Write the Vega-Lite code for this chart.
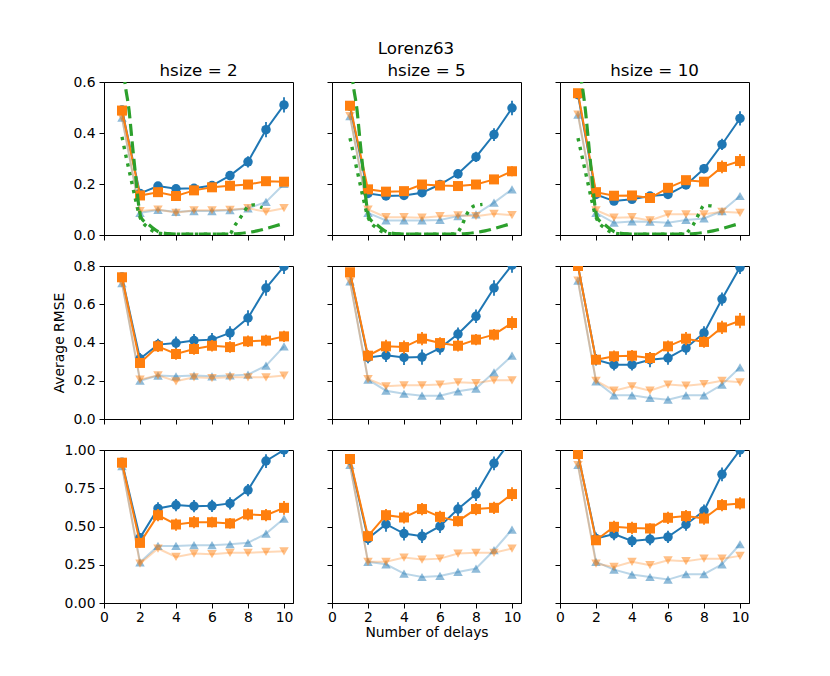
{
"$schema": "https://vega.github.io/schema/vega-lite/v6.json",
"padding": {"left": 52, "top": 41, "right": 5, "bottom": 5},
"title": {"text": "Lorenz63", "offset": 5, "dx": 15},
"config": {
 "view": {"stroke": "#000", "strokeWidth": 1},
 "mark": {"invalid": "filter"},
 "title": {"font": "DejaVu Sans", "fontSize": 16.7, "fontWeight": "normal", "color": "#000", "anchor": "middle", "offset": -5},
 "axis": {"grid": false, "domainColor": "#000", "domainWidth": 1, "tickColor": "#000", "tickWidth": 1, "tickSize": 5, "tickCount": 12, "labelColor": "#000", "labelFont": "DejaVu Sans", "labelFontSize": 13.9, "labelPadding": 4, "labelFlush": false, "labelOverlap": false, "labelBound": false, "titleFont": "DejaVu Sans", "titleFontSize": 13.9, "titleFontWeight": "normal", "titleColor": "#000", "titlePadding": 6},
 "axisX": {"labelPadding": 2}
},
"datasets": {"main": [
{"r":1,"h":2,"x":1,"a":0.49,"ea":0.015,"b":0.488,"eb":0.015,"c":0.46,"d":0.46},
{"r":1,"h":2,"x":2,"a":0.163,"ea":0.012,"b":0.155,"eb":0.012,"c":0.087,"d":0.094},
{"r":1,"h":2,"x":3,"a":0.192,"ea":0.015,"b":0.168,"eb":0.012,"c":0.098,"d":0.1},
{"r":1,"h":2,"x":4,"a":0.181,"ea":0.012,"b":0.153,"eb":0.012,"c":0.091,"d":0.087},
{"r":1,"h":2,"x":5,"a":0.183,"ea":0.012,"b":0.175,"eb":0.012,"c":0.094,"d":0.097},
{"r":1,"h":2,"x":6,"a":0.194,"ea":0.012,"b":0.187,"eb":0.012,"c":0.094,"d":0.097},
{"r":1,"h":2,"x":7,"a":0.233,"ea":0.018,"b":0.193,"eb":0.012,"c":0.097,"d":0.099},
{"r":1,"h":2,"x":8,"a":0.287,"ea":0.022,"b":0.198,"eb":0.012,"c":0.104,"d":0.105},
{"r":1,"h":2,"x":9,"a":0.413,"ea":0.03,"b":0.211,"eb":0.015,"c":0.13,"d":0.091},
{"r":1,"h":2,"x":10,"a":0.51,"ea":0.03,"b":0.209,"eb":0.015,"c":0.2,"d":0.105},
{"r":1,"h":5,"x":1,"a":0.505,"ea":0.015,"b":0.507,"eb":0.015,"c":0.466,"d":0.466},
{"r":1,"h":5,"x":2,"a":0.163,"ea":0.012,"b":0.179,"eb":0.012,"c":0.087,"d":0.1},
{"r":1,"h":5,"x":3,"a":0.153,"ea":0.012,"b":0.17,"eb":0.012,"c":0.057,"d":0.07},
{"r":1,"h":5,"x":4,"a":0.155,"ea":0.012,"b":0.172,"eb":0.012,"c":0.057,"d":0.07},
{"r":1,"h":5,"x":5,"a":0.166,"ea":0.015,"b":0.198,"eb":0.012,"c":0.057,"d":0.068},
{"r":1,"h":5,"x":6,"a":0.198,"ea":0.015,"b":0.194,"eb":0.012,"c":0.059,"d":0.074},
{"r":1,"h":5,"x":7,"a":0.24,"ea":0.018,"b":0.192,"eb":0.012,"c":0.074,"d":0.077},
{"r":1,"h":5,"x":8,"a":0.306,"ea":0.02,"b":0.198,"eb":0.012,"c":0.081,"d":0.074},
{"r":1,"h":5,"x":9,"a":0.394,"ea":0.025,"b":0.218,"eb":0.012,"c":0.127,"d":0.083},
{"r":1,"h":5,"x":10,"a":0.498,"ea":0.028,"b":0.25,"eb":0.02,"c":0.179,"d":0.078},
{"r":1,"h":10,"x":1,"a":0.55,"ea":0.015,"b":0.556,"eb":0.015,"c":0.472,"d":0.472},
{"r":1,"h":10,"x":2,"a":0.159,"ea":0.012,"b":0.168,"eb":0.015,"c":0.087,"d":0.097},
{"r":1,"h":10,"x":3,"a":0.133,"ea":0.012,"b":0.154,"eb":0.012,"c":0.048,"d":0.068},
{"r":1,"h":10,"x":4,"a":0.14,"ea":0.012,"b":0.155,"eb":0.012,"c":0.053,"d":0.07},
{"r":1,"h":10,"x":5,"a":0.153,"ea":0.015,"b":0.145,"eb":0.012,"c":0.052,"d":0.057},
{"r":1,"h":10,"x":6,"a":0.159,"ea":0.015,"b":0.185,"eb":0.015,"c":0.048,"d":0.081},
{"r":1,"h":10,"x":7,"a":0.196,"ea":0.015,"b":0.215,"eb":0.015,"c":0.059,"d":0.081},
{"r":1,"h":10,"x":8,"a":0.26,"ea":0.018,"b":0.209,"eb":0.015,"c":0.065,"d":0.081},
{"r":1,"h":10,"x":9,"a":0.355,"ea":0.022,"b":0.267,"eb":0.025,"c":0.094,"d":0.091},
{"r":1,"h":10,"x":10,"a":0.457,"ea":0.028,"b":0.29,"eb":0.028,"c":0.153,"d":0.087},
{"r":2,"h":2,"x":1,"a":0.742,"ea":0.02,"b":0.741,"eb":0.02,"c":0.711,"d":0.711},
{"r":2,"h":2,"x":2,"a":0.315,"ea":0.03,"b":0.293,"eb":0.025,"c":0.2,"d":0.206},
{"r":2,"h":2,"x":3,"a":0.389,"ea":0.03,"b":0.38,"eb":0.03,"c":0.227,"d":0.228},
{"r":2,"h":2,"x":4,"a":0.397,"ea":0.035,"b":0.34,"eb":0.03,"c":0.223,"d":0.197},
{"r":2,"h":2,"x":5,"a":0.41,"ea":0.035,"b":0.366,"eb":0.03,"c":0.227,"d":0.218},
{"r":2,"h":2,"x":6,"a":0.415,"ea":0.035,"b":0.383,"eb":0.03,"c":0.223,"d":0.214},
{"r":2,"h":2,"x":7,"a":0.45,"ea":0.035,"b":0.376,"eb":0.03,"c":0.228,"d":0.218},
{"r":2,"h":2,"x":8,"a":0.528,"ea":0.04,"b":0.406,"eb":0.03,"c":0.232,"d":0.218},
{"r":2,"h":2,"x":9,"a":0.685,"ea":0.04,"b":0.41,"eb":0.03,"c":0.279,"d":0.218},
{"r":2,"h":2,"x":10,"a":0.798,"ea":0.04,"b":0.432,"eb":0.03,"c":0.38,"d":0.227},
{"r":2,"h":5,"x":1,"a":0.765,"ea":0.02,"b":0.767,"eb":0.02,"c":0.72,"d":0.72},
{"r":2,"h":5,"x":2,"a":0.322,"ea":0.03,"b":0.331,"eb":0.03,"c":0.206,"d":0.209},
{"r":2,"h":5,"x":3,"a":0.333,"ea":0.035,"b":0.38,"eb":0.035,"c":0.148,"d":0.171},
{"r":2,"h":5,"x":4,"a":0.322,"ea":0.04,"b":0.376,"eb":0.035,"c":0.132,"d":0.176},
{"r":2,"h":5,"x":5,"a":0.324,"ea":0.04,"b":0.42,"eb":0.035,"c":0.122,"d":0.176},
{"r":2,"h":5,"x":6,"a":0.371,"ea":0.035,"b":0.397,"eb":0.03,"c":0.122,"d":0.18},
{"r":2,"h":5,"x":7,"a":0.444,"ea":0.035,"b":0.383,"eb":0.03,"c":0.145,"d":0.192},
{"r":2,"h":5,"x":8,"a":0.537,"ea":0.035,"b":0.415,"eb":0.03,"c":0.159,"d":0.188},
{"r":2,"h":5,"x":9,"a":0.685,"ea":0.04,"b":0.441,"eb":0.03,"c":0.244,"d":0.202},
{"r":2,"h":5,"x":10,"a":0.805,"ea":0.04,"b":0.502,"eb":0.035,"c":0.331,"d":0.202},
{"r":2,"h":10,"x":1,"a":0.8,"ea":0.02,"b":0.8,"eb":0.02,"c":0.723,"d":0.723},
{"r":2,"h":10,"x":2,"a":0.31,"ea":0.03,"b":0.31,"eb":0.025,"c":0.197,"d":0.2},
{"r":2,"h":10,"x":3,"a":0.284,"ea":0.03,"b":0.328,"eb":0.03,"c":0.124,"d":0.148},
{"r":2,"h":10,"x":4,"a":0.284,"ea":0.03,"b":0.331,"eb":0.03,"c":0.124,"d":0.171},
{"r":2,"h":10,"x":5,"a":0.31,"ea":0.04,"b":0.319,"eb":0.03,"c":0.11,"d":0.148},
{"r":2,"h":10,"x":6,"a":0.319,"ea":0.035,"b":0.38,"eb":0.03,"c":0.101,"d":0.18},
{"r":2,"h":10,"x":7,"a":0.371,"ea":0.035,"b":0.42,"eb":0.035,"c":0.124,"d":0.174},
{"r":2,"h":10,"x":8,"a":0.45,"ea":0.035,"b":0.403,"eb":0.03,"c":0.124,"d":0.183},
{"r":2,"h":10,"x":9,"a":0.627,"ea":0.035,"b":0.479,"eb":0.035,"c":0.18,"d":0.2},
{"r":2,"h":10,"x":10,"a":0.793,"ea":0.035,"b":0.514,"eb":0.04,"c":0.27,"d":0.192},
{"r":3,"h":2,"x":1,"a":0.92,"ea":0.02,"b":0.917,"eb":0.02,"c":0.895,"d":0.895},
{"r":3,"h":2,"x":2,"a":0.426,"ea":0.03,"b":0.393,"eb":0.03,"c":0.266,"d":0.258},
{"r":3,"h":2,"x":3,"a":0.618,"ea":0.04,"b":0.574,"eb":0.04,"c":0.373,"d":0.356},
{"r":3,"h":2,"x":4,"a":0.64,"ea":0.04,"b":0.513,"eb":0.04,"c":0.373,"d":0.301},
{"r":3,"h":2,"x":5,"a":0.633,"ea":0.04,"b":0.528,"eb":0.04,"c":0.378,"d":0.323},
{"r":3,"h":2,"x":6,"a":0.635,"ea":0.04,"b":0.528,"eb":0.035,"c":0.378,"d":0.319},
{"r":3,"h":2,"x":7,"a":0.651,"ea":0.04,"b":0.52,"eb":0.035,"c":0.384,"d":0.328},
{"r":3,"h":2,"x":8,"a":0.738,"ea":0.04,"b":0.579,"eb":0.04,"c":0.393,"d":0.328},
{"r":3,"h":2,"x":9,"a":0.928,"ea":0.045,"b":0.574,"eb":0.04,"c":0.454,"d":0.334},
{"r":3,"h":2,"x":10,"a":1.0,"ea":0.045,"b":0.622,"eb":0.045,"c":0.552,"d":0.338},
{"r":3,"h":5,"x":1,"a":0.935,"ea":0.02,"b":0.941,"eb":0.02,"c":0.902,"d":0.902},
{"r":3,"h":5,"x":2,"a":0.421,"ea":0.04,"b":0.437,"eb":0.035,"c":0.269,"d":0.269},
{"r":3,"h":5,"x":3,"a":0.515,"ea":0.05,"b":0.574,"eb":0.04,"c":0.253,"d":0.269},
{"r":3,"h":5,"x":4,"a":0.454,"ea":0.045,"b":0.559,"eb":0.04,"c":0.192,"d":0.297},
{"r":3,"h":5,"x":5,"a":0.437,"ea":0.045,"b":0.614,"eb":0.04,"c":0.17,"d":0.284},
{"r":3,"h":5,"x":6,"a":0.502,"ea":0.045,"b":0.563,"eb":0.04,"c":0.177,"d":0.29},
{"r":3,"h":5,"x":7,"a":0.614,"ea":0.045,"b":0.535,"eb":0.035,"c":0.203,"d":0.323},
{"r":3,"h":5,"x":8,"a":0.712,"ea":0.045,"b":0.614,"eb":0.04,"c":0.225,"d":0.328},
{"r":3,"h":5,"x":9,"a":0.913,"ea":0.045,"b":0.622,"eb":0.04,"c":0.345,"d":0.328},
{"r":3,"h":5,"x":10,"a":1.07,"ea":0.05,"b":0.712,"eb":0.045,"c":0.48,"d":0.356},
{"r":3,"h":10,"x":1,"a":0.97,"ea":0.02,"b":0.974,"eb":0.02,"c":0.902,"d":0.902},
{"r":3,"h":10,"x":2,"a":0.421,"ea":0.04,"b":0.41,"eb":0.03,"c":0.269,"d":0.258},
{"r":3,"h":10,"x":3,"a":0.45,"ea":0.04,"b":0.498,"eb":0.04,"c":0.218,"d":0.236},
{"r":3,"h":10,"x":4,"a":0.406,"ea":0.04,"b":0.491,"eb":0.04,"c":0.186,"d":0.269},
{"r":3,"h":10,"x":5,"a":0.417,"ea":0.04,"b":0.487,"eb":0.035,"c":0.17,"d":0.247},
{"r":3,"h":10,"x":6,"a":0.432,"ea":0.04,"b":0.557,"eb":0.04,"c":0.153,"d":0.279},
{"r":3,"h":10,"x":7,"a":0.513,"ea":0.04,"b":0.568,"eb":0.04,"c":0.188,"d":0.273},
{"r":3,"h":10,"x":8,"a":0.603,"ea":0.04,"b":0.552,"eb":0.04,"c":0.188,"d":0.29},
{"r":3,"h":10,"x":9,"a":0.841,"ea":0.045,"b":0.64,"eb":0.04,"c":0.253,"d":0.29},
{"r":3,"h":10,"x":10,"a":1.0,"ea":0.045,"b":0.651,"eb":0.04,"c":0.384,"d":0.308},
{"r":1,"h":2,"x":1.1,"g":0.64},{"r":1,"h":2,"x":1.16,"g":0.6},{"r":1,"h":2,"x":1.39,"g":0.49},{"r":1,"h":2,"x":1.57,"g":0.36},{"r":1,"h":2,"x":1.76,"g":0.23},{"r":1,"h":2,"x":1.94,"g":0.11},{"r":1,"h":2,"x":2.05,"g":0.07},{"r":1,"h":2,"x":2.5,"g":0.04},{"r":1,"h":2,"x":3,"g":0.014},{"r":1,"h":2,"x":3.5,"g":0.006},{"r":1,"h":2,"x":4,"g":0.004},{"r":1,"h":2,"x":5,"g":0.004},{"r":1,"h":2,"x":6,"g":0.004},{"r":1,"h":2,"x":7,"g":0.004},{"r":1,"h":2,"x":7.5,"g":0.006},{"r":1,"h":2,"x":8,"g":0.01},{"r":1,"h":2,"x":8.5,"g":0.016},{"r":1,"h":2,"x":9,"g":0.025},{"r":1,"h":2,"x":9.5,"g":0.035},{"r":1,"h":2,"x":10,"g":0.046},
{"r":1,"h":5,"x":1.1,"g":0.64},{"r":1,"h":5,"x":1.16,"g":0.6},{"r":1,"h":5,"x":1.39,"g":0.49},{"r":1,"h":5,"x":1.57,"g":0.36},{"r":1,"h":5,"x":1.76,"g":0.23},{"r":1,"h":5,"x":1.94,"g":0.11},{"r":1,"h":5,"x":2.05,"g":0.07},{"r":1,"h":5,"x":2.5,"g":0.04},{"r":1,"h":5,"x":3,"g":0.014},{"r":1,"h":5,"x":3.5,"g":0.006},{"r":1,"h":5,"x":4,"g":0.004},{"r":1,"h":5,"x":5,"g":0.004},{"r":1,"h":5,"x":6,"g":0.004},{"r":1,"h":5,"x":7,"g":0.004},{"r":1,"h":5,"x":7.5,"g":0.006},{"r":1,"h":5,"x":8,"g":0.01},{"r":1,"h":5,"x":8.5,"g":0.016},{"r":1,"h":5,"x":9,"g":0.025},{"r":1,"h":5,"x":9.5,"g":0.035},{"r":1,"h":5,"x":10,"g":0.046},
{"r":1,"h":10,"x":1.1,"g":0.64},{"r":1,"h":10,"x":1.2,"g":0.6},{"r":1,"h":10,"x":1.41,"g":0.49},{"r":1,"h":10,"x":1.59,"g":0.36},{"r":1,"h":10,"x":1.77,"g":0.23},{"r":1,"h":10,"x":1.95,"g":0.11},{"r":1,"h":10,"x":2.05,"g":0.07},{"r":1,"h":10,"x":2.5,"g":0.04},{"r":1,"h":10,"x":3,"g":0.014},{"r":1,"h":10,"x":3.5,"g":0.006},{"r":1,"h":10,"x":4,"g":0.004},{"r":1,"h":10,"x":5,"g":0.004},{"r":1,"h":10,"x":6,"g":0.004},{"r":1,"h":10,"x":7,"g":0.004},{"r":1,"h":10,"x":7.5,"g":0.006},{"r":1,"h":10,"x":8,"g":0.01},{"r":1,"h":10,"x":8.5,"g":0.016},{"r":1,"h":10,"x":9,"g":0.025},{"r":1,"h":10,"x":9.5,"g":0.035},{"r":1,"h":10,"x":10,"g":0.046},
{"r":1,"h":2,"x":1,"f":0.385},{"r":1,"h":2,"x":1.25,"f":0.3},{"r":1,"h":2,"x":1.5,"f":0.22},{"r":1,"h":2,"x":1.75,"f":0.14},{"r":1,"h":2,"x":2,"f":0.07},{"r":1,"h":2,"x":2.5,"f":0.026},{"r":1,"h":2,"x":3,"f":0.008},{"r":1,"h":2,"x":3.5,"f":0.004},{"r":1,"h":2,"x":4,"f":0.003},{"r":1,"h":2,"x":5,"f":0.003},{"r":1,"h":2,"x":6,"f":0.003},{"r":1,"h":2,"x":7,"f":0.004},{"r":1,"h":2,"x":7.2,"f":0.03},{"r":1,"h":2,"x":7.5,"f":0.06},{"r":1,"h":2,"x":7.75,"f":0.087},{"r":1,"h":2,"x":8,"f":0.112},{"r":1,"h":2,"x":8.3,"f":0.118},{"r":1,"h":2,"x":8.8,"f":0.107},
{"r":1,"h":5,"x":1,"f":0.38},{"r":1,"h":5,"x":1.25,"f":0.3},{"r":1,"h":5,"x":1.5,"f":0.22},{"r":1,"h":5,"x":1.75,"f":0.14},{"r":1,"h":5,"x":2,"f":0.07},{"r":1,"h":5,"x":2.5,"f":0.026},{"r":1,"h":5,"x":3,"f":0.008},{"r":1,"h":5,"x":3.5,"f":0.004},{"r":1,"h":5,"x":4,"f":0.003},{"r":1,"h":5,"x":5,"f":0.003},{"r":1,"h":5,"x":6,"f":0.003},{"r":1,"h":5,"x":6.9,"f":0.005},{"r":1,"h":5,"x":7.16,"f":0.03},{"r":1,"h":5,"x":7.53,"f":0.087},{"r":1,"h":5,"x":7.9,"f":0.114},{"r":1,"h":5,"x":8.36,"f":0.12},
{"r":1,"h":10,"x":1,"f":0.38},{"r":1,"h":10,"x":1.25,"f":0.3},{"r":1,"h":10,"x":1.5,"f":0.22},{"r":1,"h":10,"x":1.75,"f":0.14},{"r":1,"h":10,"x":2,"f":0.07},{"r":1,"h":10,"x":2.5,"f":0.026},{"r":1,"h":10,"x":3,"f":0.008},{"r":1,"h":10,"x":3.5,"f":0.004},{"r":1,"h":10,"x":4,"f":0.003},{"r":1,"h":10,"x":5,"f":0.003},{"r":1,"h":10,"x":6,"f":0.003},{"r":1,"h":10,"x":7,"f":0.005},{"r":1,"h":10,"x":7.1,"f":0.012},{"r":1,"h":10,"x":7.4,"f":0.04},{"r":1,"h":10,"x":7.75,"f":0.087},{"r":1,"h":10,"x":8,"f":0.116},{"r":1,"h":10,"x":8.4,"f":0.114},{"r":1,"h":10,"x":8.6,"f":0.11}
]},
"data": {"name": "main"},
"columns": 3,
"bounds": "flush",
"spacing": {"row": 31, "column": 39},
"concat": [
{"title": "hsize = 2", "width": 189, "height": 153, "transform": [{"filter": "datum.r == 1 && datum.h == 2"}],
 "encoding": {"x": {"field": "x", "type": "quantitative", "scale": {"domain": [0, 10.5], "nice": false, "zero": false}, "axis": {"values": [0,2,4,6,8,10], "tickCount": 12, "labels": false, "title": null}}},
 "layer": [
  {"transform": [{"filter": "isValid(datum.c)"}], "mark": {"type": "line", "color": "#1f77b4", "opacity": 0.3, "strokeWidth": 2, "clip": true}, "encoding": {"y": {"field": "c", "type": "quantitative", "title": null, "scale": {"domain": [0, 0.6], "nice": false, "zero": false}, "axis": {"values": [0, 0.2, 0.4, 0.6], "tickCount": 12, "format": ".1f", "labelOverlap": false, "title": null}}}},
  {"transform": [{"filter": "isValid(datum.c)"}], "mark": {"type": "point", "shape": "triangle-up", "filled": true, "size": 90, "color": "#1f77b4", "opacity": 0.5, "clip": true}, "encoding": {"y": {"field": "c", "type": "quantitative", "title": null}}},
  {"transform": [{"filter": "isValid(datum.d)"}], "mark": {"type": "line", "color": "#ff7f0e", "opacity": 0.3, "strokeWidth": 2, "clip": true}, "encoding": {"y": {"field": "d", "type": "quantitative", "title": null}}},
  {"transform": [{"filter": "isValid(datum.d)"}], "mark": {"type": "point", "shape": "triangle-down", "filled": true, "size": 90, "color": "#ff7f0e", "opacity": 0.5, "clip": true}, "encoding": {"y": {"field": "d", "type": "quantitative", "title": null}}},
  {"transform": [{"filter": "isValid(datum.ea)"}], "mark": {"type": "errorbar", "color": "#1f77b4", "thickness": 1.8, "clip": true}, "encoding": {"y": {"field": "a", "type": "quantitative", "title": null}, "yError": {"field": "ea"}}},
  {"transform": [{"filter": "isValid(datum.a)"}], "mark": {"type": "line", "color": "#1f77b4", "strokeWidth": 2, "clip": true}, "encoding": {"y": {"field": "a", "type": "quantitative", "title": null}}},
  {"transform": [{"filter": "isValid(datum.a)"}], "mark": {"type": "point", "shape": "circle", "filled": true, "size": 90, "color": "#1f77b4", "opacity": 1, "clip": true}, "encoding": {"y": {"field": "a", "type": "quantitative", "title": null}}},
  {"transform": [{"filter": "isValid(datum.eb)"}], "mark": {"type": "errorbar", "color": "#ff7f0e", "thickness": 1.8, "clip": true}, "encoding": {"y": {"field": "b", "type": "quantitative", "title": null}, "yError": {"field": "eb"}}},
  {"transform": [{"filter": "isValid(datum.b)"}], "mark": {"type": "line", "color": "#ff7f0e", "strokeWidth": 2, "clip": true}, "encoding": {"y": {"field": "b", "type": "quantitative", "title": null}}},
  {"transform": [{"filter": "isValid(datum.b)"}], "mark": {"type": "point", "shape": "square", "filled": true, "size": 100, "color": "#ff7f0e", "opacity": 1, "clip": true}, "encoding": {"y": {"field": "b", "type": "quantitative", "title": null}}},
  {"transform": [{"filter": "isValid(datum.g)"}], "mark": {"type": "line", "color": "#2ca02c", "strokeWidth": 3.2, "strokeDash": [12, 5.5], "interpolate": "monotone", "clip": true}, "encoding": {"y": {"field": "g", "type": "quantitative", "title": null}}},
  {"transform": [{"filter": "isValid(datum.f)"}], "mark": {"type": "line", "color": "#2ca02c", "strokeWidth": 3.4, "strokeDash": [3.4, 5.6], "interpolate": "monotone", "clip": true}, "encoding": {"y": {"field": "f", "type": "quantitative", "title": null}}}
 ]},
{"title": "hsize = 5", "width": 189, "height": 153, "transform": [{"filter": "datum.r == 1 && datum.h == 5"}],
 "encoding": {"x": {"field": "x", "type": "quantitative", "scale": {"domain": [0, 10.5], "nice": false, "zero": false}, "axis": {"values": [0,2,4,6,8,10], "tickCount": 12, "labels": false, "title": null}}},
 "layer": [
  {"transform": [{"filter": "isValid(datum.c)"}], "mark": {"type": "line", "color": "#1f77b4", "opacity": 0.3, "strokeWidth": 2, "clip": true}, "encoding": {"y": {"field": "c", "type": "quantitative", "title": null, "scale": {"domain": [0, 0.6], "nice": false, "zero": false}, "axis": {"values": [0, 0.2, 0.4, 0.6], "tickCount": 12, "format": ".1f", "labelOpacity": 0, "labelOverlap": false, "title": null}}}},
  {"transform": [{"filter": "isValid(datum.c)"}], "mark": {"type": "point", "shape": "triangle-up", "filled": true, "size": 90, "color": "#1f77b4", "opacity": 0.5, "clip": true}, "encoding": {"y": {"field": "c", "type": "quantitative", "title": null}}},
  {"transform": [{"filter": "isValid(datum.d)"}], "mark": {"type": "line", "color": "#ff7f0e", "opacity": 0.3, "strokeWidth": 2, "clip": true}, "encoding": {"y": {"field": "d", "type": "quantitative", "title": null}}},
  {"transform": [{"filter": "isValid(datum.d)"}], "mark": {"type": "point", "shape": "triangle-down", "filled": true, "size": 90, "color": "#ff7f0e", "opacity": 0.5, "clip": true}, "encoding": {"y": {"field": "d", "type": "quantitative", "title": null}}},
  {"transform": [{"filter": "isValid(datum.ea)"}], "mark": {"type": "errorbar", "color": "#1f77b4", "thickness": 1.8, "clip": true}, "encoding": {"y": {"field": "a", "type": "quantitative", "title": null}, "yError": {"field": "ea"}}},
  {"transform": [{"filter": "isValid(datum.a)"}], "mark": {"type": "line", "color": "#1f77b4", "strokeWidth": 2, "clip": true}, "encoding": {"y": {"field": "a", "type": "quantitative", "title": null}}},
  {"transform": [{"filter": "isValid(datum.a)"}], "mark": {"type": "point", "shape": "circle", "filled": true, "size": 90, "color": "#1f77b4", "opacity": 1, "clip": true}, "encoding": {"y": {"field": "a", "type": "quantitative", "title": null}}},
  {"transform": [{"filter": "isValid(datum.eb)"}], "mark": {"type": "errorbar", "color": "#ff7f0e", "thickness": 1.8, "clip": true}, "encoding": {"y": {"field": "b", "type": "quantitative", "title": null}, "yError": {"field": "eb"}}},
  {"transform": [{"filter": "isValid(datum.b)"}], "mark": {"type": "line", "color": "#ff7f0e", "strokeWidth": 2, "clip": true}, "encoding": {"y": {"field": "b", "type": "quantitative", "title": null}}},
  {"transform": [{"filter": "isValid(datum.b)"}], "mark": {"type": "point", "shape": "square", "filled": true, "size": 100, "color": "#ff7f0e", "opacity": 1, "clip": true}, "encoding": {"y": {"field": "b", "type": "quantitative", "title": null}}},
  {"transform": [{"filter": "isValid(datum.g)"}], "mark": {"type": "line", "color": "#2ca02c", "strokeWidth": 3.2, "strokeDash": [12, 5.5], "interpolate": "monotone", "clip": true}, "encoding": {"y": {"field": "g", "type": "quantitative", "title": null}}},
  {"transform": [{"filter": "isValid(datum.f)"}], "mark": {"type": "line", "color": "#2ca02c", "strokeWidth": 3.4, "strokeDash": [3.4, 5.6], "interpolate": "monotone", "clip": true}, "encoding": {"y": {"field": "f", "type": "quantitative", "title": null}}}
 ]},
{"title": "hsize = 10", "width": 189, "height": 153, "transform": [{"filter": "datum.r == 1 && datum.h == 10"}],
 "encoding": {"x": {"field": "x", "type": "quantitative", "scale": {"domain": [0, 10.5], "nice": false, "zero": false}, "axis": {"values": [0,2,4,6,8,10], "tickCount": 12, "labels": false, "title": null}}},
 "layer": [
  {"transform": [{"filter": "isValid(datum.c)"}], "mark": {"type": "line", "color": "#1f77b4", "opacity": 0.3, "strokeWidth": 2, "clip": true}, "encoding": {"y": {"field": "c", "type": "quantitative", "title": null, "scale": {"domain": [0, 0.6], "nice": false, "zero": false}, "axis": {"values": [0, 0.2, 0.4, 0.6], "tickCount": 12, "format": ".1f", "labelOpacity": 0, "labelOverlap": false, "title": null}}}},
  {"transform": [{"filter": "isValid(datum.c)"}], "mark": {"type": "point", "shape": "triangle-up", "filled": true, "size": 90, "color": "#1f77b4", "opacity": 0.5, "clip": true}, "encoding": {"y": {"field": "c", "type": "quantitative", "title": null}}},
  {"transform": [{"filter": "isValid(datum.d)"}], "mark": {"type": "line", "color": "#ff7f0e", "opacity": 0.3, "strokeWidth": 2, "clip": true}, "encoding": {"y": {"field": "d", "type": "quantitative", "title": null}}},
  {"transform": [{"filter": "isValid(datum.d)"}], "mark": {"type": "point", "shape": "triangle-down", "filled": true, "size": 90, "color": "#ff7f0e", "opacity": 0.5, "clip": true}, "encoding": {"y": {"field": "d", "type": "quantitative", "title": null}}},
  {"transform": [{"filter": "isValid(datum.ea)"}], "mark": {"type": "errorbar", "color": "#1f77b4", "thickness": 1.8, "clip": true}, "encoding": {"y": {"field": "a", "type": "quantitative", "title": null}, "yError": {"field": "ea"}}},
  {"transform": [{"filter": "isValid(datum.a)"}], "mark": {"type": "line", "color": "#1f77b4", "strokeWidth": 2, "clip": true}, "encoding": {"y": {"field": "a", "type": "quantitative", "title": null}}},
  {"transform": [{"filter": "isValid(datum.a)"}], "mark": {"type": "point", "shape": "circle", "filled": true, "size": 90, "color": "#1f77b4", "opacity": 1, "clip": true}, "encoding": {"y": {"field": "a", "type": "quantitative", "title": null}}},
  {"transform": [{"filter": "isValid(datum.eb)"}], "mark": {"type": "errorbar", "color": "#ff7f0e", "thickness": 1.8, "clip": true}, "encoding": {"y": {"field": "b", "type": "quantitative", "title": null}, "yError": {"field": "eb"}}},
  {"transform": [{"filter": "isValid(datum.b)"}], "mark": {"type": "line", "color": "#ff7f0e", "strokeWidth": 2, "clip": true}, "encoding": {"y": {"field": "b", "type": "quantitative", "title": null}}},
  {"transform": [{"filter": "isValid(datum.b)"}], "mark": {"type": "point", "shape": "square", "filled": true, "size": 100, "color": "#ff7f0e", "opacity": 1, "clip": true}, "encoding": {"y": {"field": "b", "type": "quantitative", "title": null}}},
  {"transform": [{"filter": "isValid(datum.g)"}], "mark": {"type": "line", "color": "#2ca02c", "strokeWidth": 3.2, "strokeDash": [12, 5.5], "interpolate": "monotone", "clip": true}, "encoding": {"y": {"field": "g", "type": "quantitative", "title": null}}},
  {"transform": [{"filter": "isValid(datum.f)"}], "mark": {"type": "line", "color": "#2ca02c", "strokeWidth": 3.4, "strokeDash": [3.4, 5.6], "interpolate": "monotone", "clip": true}, "encoding": {"y": {"field": "f", "type": "quantitative", "title": null}}}
 ]},
{"width": 189, "height": 153, "transform": [{"filter": "datum.r == 2 && datum.h == 2"}],
 "encoding": {"x": {"field": "x", "type": "quantitative", "scale": {"domain": [0, 10.5], "nice": false, "zero": false}, "axis": {"values": [0,2,4,6,8,10], "tickCount": 12, "labels": false, "title": null}}},
 "layer": [
  {"mark": {"type": "line", "color": "#1f77b4", "opacity": 0.3, "strokeWidth": 2, "clip": true}, "encoding": {"y": {"field": "c", "type": "quantitative", "title": "Average RMSE", "scale": {"domain": [0, 0.8], "nice": false, "zero": false}, "axis": {"values": [0, 0.2, 0.4, 0.6, 0.8], "tickCount": 12, "format": ".1f", "labelOverlap": false, "title": "Average RMSE"}}}},
  {"mark": {"type": "point", "shape": "triangle-up", "filled": true, "size": 90, "color": "#1f77b4", "opacity": 0.5, "clip": true}, "encoding": {"y": {"field": "c", "type": "quantitative", "title": "Average RMSE"}}},
  {"mark": {"type": "line", "color": "#ff7f0e", "opacity": 0.3, "strokeWidth": 2, "clip": true}, "encoding": {"y": {"field": "d", "type": "quantitative", "title": "Average RMSE"}}},
  {"mark": {"type": "point", "shape": "triangle-down", "filled": true, "size": 90, "color": "#ff7f0e", "opacity": 0.5, "clip": true}, "encoding": {"y": {"field": "d", "type": "quantitative", "title": "Average RMSE"}}},
  {"transform": [{"filter": "isValid(datum.ea)"}], "mark": {"type": "errorbar", "color": "#1f77b4", "thickness": 1.8, "clip": true}, "encoding": {"y": {"field": "a", "type": "quantitative", "title": "Average RMSE"}, "yError": {"field": "ea"}}},
  {"mark": {"type": "line", "color": "#1f77b4", "strokeWidth": 2, "clip": true}, "encoding": {"y": {"field": "a", "type": "quantitative", "title": "Average RMSE"}}},
  {"mark": {"type": "point", "shape": "circle", "filled": true, "size": 90, "color": "#1f77b4", "opacity": 1, "clip": true}, "encoding": {"y": {"field": "a", "type": "quantitative", "title": "Average RMSE"}}},
  {"transform": [{"filter": "isValid(datum.eb)"}], "mark": {"type": "errorbar", "color": "#ff7f0e", "thickness": 1.8, "clip": true}, "encoding": {"y": {"field": "b", "type": "quantitative", "title": "Average RMSE"}, "yError": {"field": "eb"}}},
  {"mark": {"type": "line", "color": "#ff7f0e", "strokeWidth": 2, "clip": true}, "encoding": {"y": {"field": "b", "type": "quantitative", "title": "Average RMSE"}}},
  {"mark": {"type": "point", "shape": "square", "filled": true, "size": 100, "color": "#ff7f0e", "opacity": 1, "clip": true}, "encoding": {"y": {"field": "b", "type": "quantitative", "title": "Average RMSE"}}}
 ]},
{"width": 189, "height": 153, "transform": [{"filter": "datum.r == 2 && datum.h == 5"}],
 "encoding": {"x": {"field": "x", "type": "quantitative", "scale": {"domain": [0, 10.5], "nice": false, "zero": false}, "axis": {"values": [0,2,4,6,8,10], "tickCount": 12, "labels": false, "title": null}}},
 "layer": [
  {"mark": {"type": "line", "color": "#1f77b4", "opacity": 0.3, "strokeWidth": 2, "clip": true}, "encoding": {"y": {"field": "c", "type": "quantitative", "title": null, "scale": {"domain": [0, 0.8], "nice": false, "zero": false}, "axis": {"values": [0, 0.2, 0.4, 0.6, 0.8], "tickCount": 12, "labels": false, "title": null}}}},
  {"mark": {"type": "point", "shape": "triangle-up", "filled": true, "size": 90, "color": "#1f77b4", "opacity": 0.5, "clip": true}, "encoding": {"y": {"field": "c", "type": "quantitative", "title": null}}},
  {"mark": {"type": "line", "color": "#ff7f0e", "opacity": 0.3, "strokeWidth": 2, "clip": true}, "encoding": {"y": {"field": "d", "type": "quantitative", "title": null}}},
  {"mark": {"type": "point", "shape": "triangle-down", "filled": true, "size": 90, "color": "#ff7f0e", "opacity": 0.5, "clip": true}, "encoding": {"y": {"field": "d", "type": "quantitative", "title": null}}},
  {"transform": [{"filter": "isValid(datum.ea)"}], "mark": {"type": "errorbar", "color": "#1f77b4", "thickness": 1.8, "clip": true}, "encoding": {"y": {"field": "a", "type": "quantitative", "title": null}, "yError": {"field": "ea"}}},
  {"mark": {"type": "line", "color": "#1f77b4", "strokeWidth": 2, "clip": true}, "encoding": {"y": {"field": "a", "type": "quantitative", "title": null}}},
  {"mark": {"type": "point", "shape": "circle", "filled": true, "size": 90, "color": "#1f77b4", "opacity": 1, "clip": true}, "encoding": {"y": {"field": "a", "type": "quantitative", "title": null}}},
  {"transform": [{"filter": "isValid(datum.eb)"}], "mark": {"type": "errorbar", "color": "#ff7f0e", "thickness": 1.8, "clip": true}, "encoding": {"y": {"field": "b", "type": "quantitative", "title": null}, "yError": {"field": "eb"}}},
  {"mark": {"type": "line", "color": "#ff7f0e", "strokeWidth": 2, "clip": true}, "encoding": {"y": {"field": "b", "type": "quantitative", "title": null}}},
  {"mark": {"type": "point", "shape": "square", "filled": true, "size": 100, "color": "#ff7f0e", "opacity": 1, "clip": true}, "encoding": {"y": {"field": "b", "type": "quantitative", "title": null}}}
 ]},
{"width": 189, "height": 153, "transform": [{"filter": "datum.r == 2 && datum.h == 10"}],
 "encoding": {"x": {"field": "x", "type": "quantitative", "scale": {"domain": [0, 10.5], "nice": false, "zero": false}, "axis": {"values": [0,2,4,6,8,10], "tickCount": 12, "labels": false, "title": null}}},
 "layer": [
  {"mark": {"type": "line", "color": "#1f77b4", "opacity": 0.3, "strokeWidth": 2, "clip": true}, "encoding": {"y": {"field": "c", "type": "quantitative", "title": null, "scale": {"domain": [0, 0.8], "nice": false, "zero": false}, "axis": {"values": [0, 0.2, 0.4, 0.6, 0.8], "tickCount": 12, "labels": false, "title": null}}}},
  {"mark": {"type": "point", "shape": "triangle-up", "filled": true, "size": 90, "color": "#1f77b4", "opacity": 0.5, "clip": true}, "encoding": {"y": {"field": "c", "type": "quantitative", "title": null}}},
  {"mark": {"type": "line", "color": "#ff7f0e", "opacity": 0.3, "strokeWidth": 2, "clip": true}, "encoding": {"y": {"field": "d", "type": "quantitative", "title": null}}},
  {"mark": {"type": "point", "shape": "triangle-down", "filled": true, "size": 90, "color": "#ff7f0e", "opacity": 0.5, "clip": true}, "encoding": {"y": {"field": "d", "type": "quantitative", "title": null}}},
  {"transform": [{"filter": "isValid(datum.ea)"}], "mark": {"type": "errorbar", "color": "#1f77b4", "thickness": 1.8, "clip": true}, "encoding": {"y": {"field": "a", "type": "quantitative", "title": null}, "yError": {"field": "ea"}}},
  {"mark": {"type": "line", "color": "#1f77b4", "strokeWidth": 2, "clip": true}, "encoding": {"y": {"field": "a", "type": "quantitative", "title": null}}},
  {"mark": {"type": "point", "shape": "circle", "filled": true, "size": 90, "color": "#1f77b4", "opacity": 1, "clip": true}, "encoding": {"y": {"field": "a", "type": "quantitative", "title": null}}},
  {"transform": [{"filter": "isValid(datum.eb)"}], "mark": {"type": "errorbar", "color": "#ff7f0e", "thickness": 1.8, "clip": true}, "encoding": {"y": {"field": "b", "type": "quantitative", "title": null}, "yError": {"field": "eb"}}},
  {"mark": {"type": "line", "color": "#ff7f0e", "strokeWidth": 2, "clip": true}, "encoding": {"y": {"field": "b", "type": "quantitative", "title": null}}},
  {"mark": {"type": "point", "shape": "square", "filled": true, "size": 100, "color": "#ff7f0e", "opacity": 1, "clip": true}, "encoding": {"y": {"field": "b", "type": "quantitative", "title": null}}}
 ]},
{"width": 189, "height": 153, "transform": [{"filter": "datum.r == 3 && datum.h == 2"}],
 "encoding": {"x": {"field": "x", "type": "quantitative", "scale": {"domain": [0, 10.5], "nice": false, "zero": false}, "axis": {"values": [0,2,4,6,8,10], "tickCount": 12, "format": "d", "labelOverlap": false, "title": null}}},
 "layer": [
  {"mark": {"type": "line", "color": "#1f77b4", "opacity": 0.3, "strokeWidth": 2, "clip": true}, "encoding": {"y": {"field": "c", "type": "quantitative", "title": null, "scale": {"domain": [0, 1], "nice": false, "zero": false}, "axis": {"values": [0, 0.25, 0.5, 0.75, 1], "tickCount": 12, "format": ".2f", "labelOverlap": false, "title": null}}}},
  {"mark": {"type": "point", "shape": "triangle-up", "filled": true, "size": 90, "color": "#1f77b4", "opacity": 0.5, "clip": true}, "encoding": {"y": {"field": "c", "type": "quantitative", "title": null}}},
  {"mark": {"type": "line", "color": "#ff7f0e", "opacity": 0.3, "strokeWidth": 2, "clip": true}, "encoding": {"y": {"field": "d", "type": "quantitative", "title": null}}},
  {"mark": {"type": "point", "shape": "triangle-down", "filled": true, "size": 90, "color": "#ff7f0e", "opacity": 0.5, "clip": true}, "encoding": {"y": {"field": "d", "type": "quantitative", "title": null}}},
  {"transform": [{"filter": "isValid(datum.ea)"}], "mark": {"type": "errorbar", "color": "#1f77b4", "thickness": 1.8, "clip": true}, "encoding": {"y": {"field": "a", "type": "quantitative", "title": null}, "yError": {"field": "ea"}}},
  {"mark": {"type": "line", "color": "#1f77b4", "strokeWidth": 2, "clip": true}, "encoding": {"y": {"field": "a", "type": "quantitative", "title": null}}},
  {"mark": {"type": "point", "shape": "circle", "filled": true, "size": 90, "color": "#1f77b4", "opacity": 1, "clip": true}, "encoding": {"y": {"field": "a", "type": "quantitative", "title": null}}},
  {"transform": [{"filter": "isValid(datum.eb)"}], "mark": {"type": "errorbar", "color": "#ff7f0e", "thickness": 1.8, "clip": true}, "encoding": {"y": {"field": "b", "type": "quantitative", "title": null}, "yError": {"field": "eb"}}},
  {"mark": {"type": "line", "color": "#ff7f0e", "strokeWidth": 2, "clip": true}, "encoding": {"y": {"field": "b", "type": "quantitative", "title": null}}},
  {"mark": {"type": "point", "shape": "square", "filled": true, "size": 100, "color": "#ff7f0e", "opacity": 1, "clip": true}, "encoding": {"y": {"field": "b", "type": "quantitative", "title": null}}}
 ]},
{"width": 189, "height": 153, "transform": [{"filter": "datum.r == 3 && datum.h == 5"}],
 "encoding": {"x": {"field": "x", "type": "quantitative", "scale": {"domain": [0, 10.5], "nice": false, "zero": false}, "axis": {"values": [0,2,4,6,8,10], "tickCount": 12, "format": "d", "labelOverlap": false, "title": "Number of delays", "titlePadding": 2}}},
 "layer": [
  {"mark": {"type": "line", "color": "#1f77b4", "opacity": 0.3, "strokeWidth": 2, "clip": true}, "encoding": {"y": {"field": "c", "type": "quantitative", "title": null, "scale": {"domain": [0, 1], "nice": false, "zero": false}, "axis": {"values": [0, 0.25, 0.5, 0.75, 1], "tickCount": 12, "labels": false, "title": null}}}},
  {"mark": {"type": "point", "shape": "triangle-up", "filled": true, "size": 90, "color": "#1f77b4", "opacity": 0.5, "clip": true}, "encoding": {"y": {"field": "c", "type": "quantitative", "title": null}}},
  {"mark": {"type": "line", "color": "#ff7f0e", "opacity": 0.3, "strokeWidth": 2, "clip": true}, "encoding": {"y": {"field": "d", "type": "quantitative", "title": null}}},
  {"mark": {"type": "point", "shape": "triangle-down", "filled": true, "size": 90, "color": "#ff7f0e", "opacity": 0.5, "clip": true}, "encoding": {"y": {"field": "d", "type": "quantitative", "title": null}}},
  {"transform": [{"filter": "isValid(datum.ea)"}], "mark": {"type": "errorbar", "color": "#1f77b4", "thickness": 1.8, "clip": true}, "encoding": {"y": {"field": "a", "type": "quantitative", "title": null}, "yError": {"field": "ea"}}},
  {"mark": {"type": "line", "color": "#1f77b4", "strokeWidth": 2, "clip": true}, "encoding": {"y": {"field": "a", "type": "quantitative", "title": null}}},
  {"mark": {"type": "point", "shape": "circle", "filled": true, "size": 90, "color": "#1f77b4", "opacity": 1, "clip": true}, "encoding": {"y": {"field": "a", "type": "quantitative", "title": null}}},
  {"transform": [{"filter": "isValid(datum.eb)"}], "mark": {"type": "errorbar", "color": "#ff7f0e", "thickness": 1.8, "clip": true}, "encoding": {"y": {"field": "b", "type": "quantitative", "title": null}, "yError": {"field": "eb"}}},
  {"mark": {"type": "line", "color": "#ff7f0e", "strokeWidth": 2, "clip": true}, "encoding": {"y": {"field": "b", "type": "quantitative", "title": null}}},
  {"mark": {"type": "point", "shape": "square", "filled": true, "size": 100, "color": "#ff7f0e", "opacity": 1, "clip": true}, "encoding": {"y": {"field": "b", "type": "quantitative", "title": null}}}
 ]},
{"width": 189, "height": 153, "transform": [{"filter": "datum.r == 3 && datum.h == 10"}],
 "encoding": {"x": {"field": "x", "type": "quantitative", "scale": {"domain": [0, 10.5], "nice": false, "zero": false}, "axis": {"values": [0,2,4,6,8,10], "tickCount": 12, "format": "d", "labelOverlap": false, "title": null}}},
 "layer": [
  {"mark": {"type": "line", "color": "#1f77b4", "opacity": 0.3, "strokeWidth": 2, "clip": true}, "encoding": {"y": {"field": "c", "type": "quantitative", "title": null, "scale": {"domain": [0, 1], "nice": false, "zero": false}, "axis": {"values": [0, 0.25, 0.5, 0.75, 1], "tickCount": 12, "labels": false, "title": null}}}},
  {"mark": {"type": "point", "shape": "triangle-up", "filled": true, "size": 90, "color": "#1f77b4", "opacity": 0.5, "clip": true}, "encoding": {"y": {"field": "c", "type": "quantitative", "title": null}}},
  {"mark": {"type": "line", "color": "#ff7f0e", "opacity": 0.3, "strokeWidth": 2, "clip": true}, "encoding": {"y": {"field": "d", "type": "quantitative", "title": null}}},
  {"mark": {"type": "point", "shape": "triangle-down", "filled": true, "size": 90, "color": "#ff7f0e", "opacity": 0.5, "clip": true}, "encoding": {"y": {"field": "d", "type": "quantitative", "title": null}}},
  {"transform": [{"filter": "isValid(datum.ea)"}], "mark": {"type": "errorbar", "color": "#1f77b4", "thickness": 1.8, "clip": true}, "encoding": {"y": {"field": "a", "type": "quantitative", "title": null}, "yError": {"field": "ea"}}},
  {"mark": {"type": "line", "color": "#1f77b4", "strokeWidth": 2, "clip": true}, "encoding": {"y": {"field": "a", "type": "quantitative", "title": null}}},
  {"mark": {"type": "point", "shape": "circle", "filled": true, "size": 90, "color": "#1f77b4", "opacity": 1, "clip": true}, "encoding": {"y": {"field": "a", "type": "quantitative", "title": null}}},
  {"transform": [{"filter": "isValid(datum.eb)"}], "mark": {"type": "errorbar", "color": "#ff7f0e", "thickness": 1.8, "clip": true}, "encoding": {"y": {"field": "b", "type": "quantitative", "title": null}, "yError": {"field": "eb"}}},
  {"mark": {"type": "line", "color": "#ff7f0e", "strokeWidth": 2, "clip": true}, "encoding": {"y": {"field": "b", "type": "quantitative", "title": null}}},
  {"mark": {"type": "point", "shape": "square", "filled": true, "size": 100, "color": "#ff7f0e", "opacity": 1, "clip": true}, "encoding": {"y": {"field": "b", "type": "quantitative", "title": null}}}
 ]}
]
}
